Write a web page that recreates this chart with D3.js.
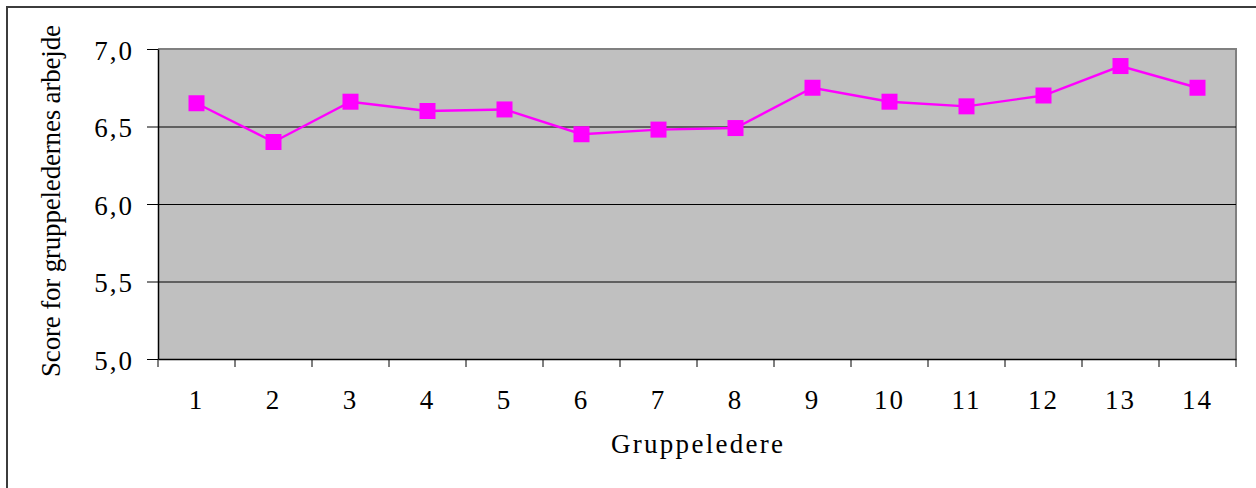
<!DOCTYPE html>
<html>
<head>
  <meta charset="utf-8" />
  <title>Score for gruppeledernes arbejde</title>
  <script src="https://d3js.org/d3.v7.min.js"></script>
  <style>
    body { margin: 0; background: #fff; }
    svg text { font-family: "Liberation Serif", "Times New Roman", serif; fill: #000; }
    .tick text { font-size: 27px; letter-spacing: 2px; }
  </style>
</head>
<body>
  <script type="text/javascript">
    // - - - - - DATA - - - - - //
    var leaders = ["1", "2", "3", "4", "5", "6", "7", "8", "9", "10", "11", "12", "13", "14"];
    var scores = [6.65, 6.40, 6.66, 6.60, 6.61, 6.45, 6.48, 6.49, 6.75, 6.66, 6.63, 6.70, 6.89, 6.75];
    var yTicks = [5.0, 5.5, 6.0, 6.5, 7.0];

    // - - - - - LAYOUT - - - - - //
    var W = 1256, H = 488;
    var margin = {top: 49, right: 20, bottom: 129, left: 158},
        width = W - margin.left - margin.right,
        height = H - margin.top - margin.bottom;

    var svg = d3.select("body").append("svg")
        .attr("width", W)
        .attr("height", H);

    // outer chart frame (cut off at right and bottom)
    svg.append("rect")
        .attr("x", 7).attr("y", 7)
        .attr("width", W + 10).attr("height", H + 10)
        .attr("fill", "#fff")
        .attr("stroke", "#3c3c3c")
        .attr("stroke-width", 2);

    var g = svg.append("g")
        .attr("transform", "translate(" + margin.left + "," + margin.top + ")");

    var x = d3.scaleBand().domain(leaders).range([0, width]);
    var y = d3.scaleLinear().domain([5, 7]).range([height, 0]);

    // plot area
    g.append("rect")
        .attr("width", width).attr("height", height)
        .attr("fill", "#c0c0c0");
    g.append("path")
        .attr("d", "M0,0H" + width + "V" + height)
        .attr("fill", "none")
        .attr("stroke", "#808080")
        .attr("stroke-width", 2);

    // gridlines
    g.append("g")
        .call(d3.axisLeft(y).tickValues(yTicks.slice(1, -1)).tickSize(-width).tickFormat(""))
        .call(function(s) { s.select(".domain").remove(); })
        .selectAll("line").attr("stroke", "#000").attr("stroke-width", 1);

    // y axis
    var fmt = function(d) { return d3.format(".1f")(d).replace(".", ","); };
    var yAxis = g.append("g")
        .call(d3.axisLeft(y).tickValues(yTicks).tickSize(11).tickSizeOuter(0).tickPadding(13).tickFormat(fmt));
    yAxis.select(".domain").attr("stroke", "#000").attr("stroke-width", 1.5);
    yAxis.selectAll(".tick line").attr("stroke", "#000");
    yAxis.selectAll(".tick text").attr("dy", "0.38em");

    // x axis: labels centred in bands, ticks on band edges
    var xAxis = g.append("g")
        .attr("transform", "translate(0," + height + ")")
        .call(d3.axisBottom(x).tickSize(0).tickPadding(31));
    xAxis.select(".domain").attr("stroke", "#000").attr("stroke-width", 1.5);

    var edges = leaders.map(function(d) { return x(d); }).concat([width]);
    xAxis.selectAll(".edge")
        .data(edges)
      .enter().append("line")
        .attr("class", "edge")
        .attr("x1", function(d) { return d; })
        .attr("x2", function(d) { return d; })
        .attr("y1", 0).attr("y2", 8)
        .attr("stroke", "#000");

    // series
    var line = d3.line()
        .x(function(d, i) { return x(leaders[i]) + x.bandwidth() / 2; })
        .y(function(d) { return y(d); });

    g.append("path")
        .datum(scores)
        .attr("d", line)
        .attr("fill", "none")
        .attr("stroke", "#ff00ff")
        .attr("stroke-width", 2.4);

    var ms = 16;
    g.selectAll(".marker")
        .data(scores)
      .enter().append("rect")
        .attr("class", "marker")
        .attr("x", function(d, i) { return x(leaders[i]) + x.bandwidth() / 2 - ms / 2; })
        .attr("y", function(d) { return y(d) - ms / 2; })
        .attr("width", ms).attr("height", ms)
        .attr("fill", "#ff00ff");

    // axis titles
    svg.append("text")
        .attr("x", 697).attr("y", 453)
        .attr("text-anchor", "middle")
        .attr("font-size", 27)
        .attr("textLength", 172)
        .attr("lengthAdjust", "spacing")
        .text("Gruppeledere");

    svg.append("text")
        .attr("transform", "translate(60,201) rotate(-90)")
        .attr("text-anchor", "middle")
        .attr("font-size", 27)
        .attr("textLength", 352)
        .attr("lengthAdjust", "spacing")
        .text("Score for gruppeledernes arbejde");
  </script>
</body>
</html>
